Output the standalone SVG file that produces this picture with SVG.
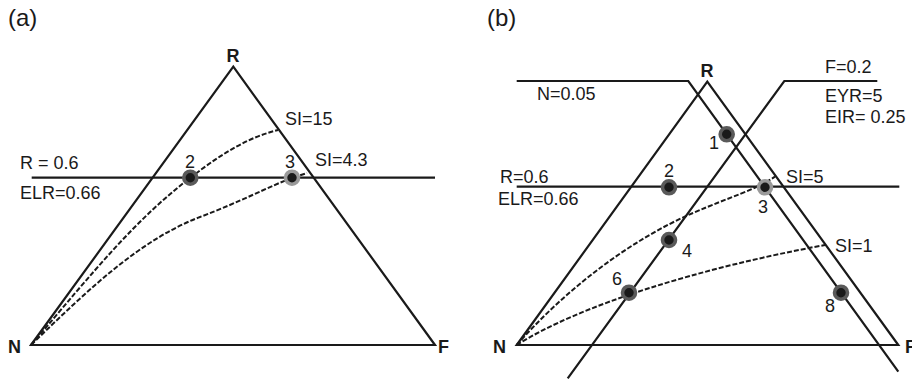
<svg xmlns="http://www.w3.org/2000/svg" width="912" height="382" viewBox="0 0 912 382">
<defs>
<style>
text{font-family:"Liberation Sans",Arial,sans-serif;font-size:18px;fill:#1a1a1a}
.b{font-weight:bold}
.m{text-anchor:middle}
.ln{fill:none;stroke:#1a1a1a;stroke-width:2.2}
.ds{fill:none;stroke:#1a1a1a;stroke-width:2;stroke-dasharray:5 2}
.pt{fill:#1a1a1a;stroke:#5a5a5a;stroke-width:3.6}
.pl{fill:#1a1a1a;stroke:#9a9a9a;stroke-width:3.6}
</style>
</defs>
<rect width="912" height="382" fill="#fff"/>
<text x="8" y="26" style="font-size:24px">(a)</text>
<text x="487" y="26" style="font-size:24px">(b)</text>
<g id="connectors">
<path class="ln" d="M31,345 L233.3,66.7 L435,345 Z"/>
<path class="ln" d="M31.7,177.7 H435"/>
<path class="ds" d="M31,345 C95,270 135,220 190,178 C225,151 250,137 278,130"/>
<path class="ds" d="M31,345 C90,288 140,240 200,217 C240,202 270,186 292,178 L307,173"/>
<path class="ln" d="M516.7,345 L707.3,81.7 L898.3,345 Z"/>
<path class="ln" d="M516.7,186.7 H899.3"/>
<path class="ln" d="M516.7,81 H688.3 L898.3,371.7"/>
<path class="ln" d="M877.3,81 H784.3 L567.7,378.3"/>
<path class="ds" d="M516.7,345 C565,290 630,240 693,213 C730,197 755,190 775,176.7"/>
<path class="ds" d="M516.7,345 C580,305 700,268 825,245"/>
</g>
<g id="a-labels">
<text class="b m" x="233" y="62">R</text>
<text class="b" x="8" y="353">N</text>
<text class="b" x="438" y="353">F</text>
<text x="285" y="125">SI=15</text>
<text x="315" y="166">SI=4.3</text>
<text x="20" y="169">R = 0.6</text>
<text x="20" y="199">ELR=0.66</text>
</g>
<g id="a-p2"><circle class="pt" cx="190.3" cy="177.7" r="6.5"/><text class="m" x="190" y="168">2</text></g>
<g id="a-p3"><circle class="pl" cx="292" cy="177.7" r="6.5"/><text class="m" x="290" y="168">3</text></g>
<g id="b-labels">
<text class="b m" x="707" y="77">R</text>
<text class="b" x="493" y="353">N</text>
<text class="b" x="905" y="353">F</text>
<text x="537" y="100">N=0.05</text>
<text x="825" y="73">F=0.2</text>
<text x="825" y="102">EYR=5</text>
<text x="825" y="123">EIR= 0.25</text>
<text x="500" y="183">R=0.6</text>
<text x="498" y="205">ELR=0.66</text>
<text x="786" y="183">SI=5</text>
<text x="835" y="252">SI=1</text>
</g>
<g id="b-p1"><circle class="pt" cx="726.7" cy="134.3" r="6.5"/><text class="m" x="714" y="149">1</text></g>
<g id="b-p2"><circle class="pt" cx="669" cy="187.3" r="6.5"/><text class="m" x="669" y="177">2</text></g>
<g id="b-p3"><circle class="pl" cx="765" cy="187.3" r="6.5"/><text class="m" x="763" y="213">3</text></g>
<g id="b-p4"><circle class="pt" cx="669" cy="240" r="6.5"/><text class="m" x="687" y="257">4</text></g>
<g id="b-p6"><circle class="pt" cx="629" cy="292.7" r="6.5"/><text class="m" x="617" y="285">6</text></g>
<g id="b-p8"><circle class="pt" cx="841" cy="292.7" r="6.5"/><text class="m" x="830" y="312">8</text></g>
</svg>
